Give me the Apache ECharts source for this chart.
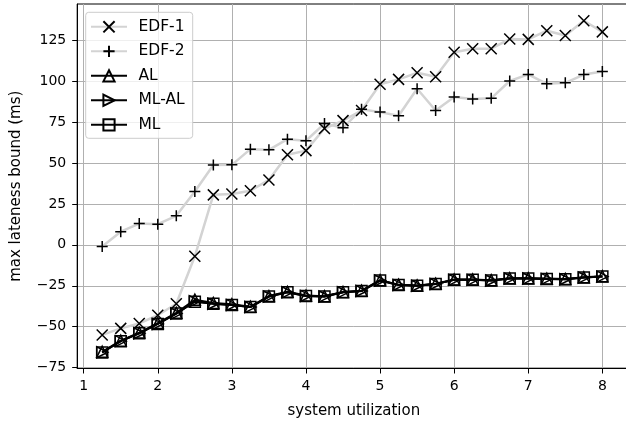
<!DOCTYPE html>
<html>
<head>
<meta charset="utf-8">
<script src="https://cdn.jsdelivr.net/npm/echarts@6/dist/echarts.min.js"></script>
<style>
  html, body { margin: 0; padding: 0; background: #fff; overflow: hidden; }
  /* the plot frame runs past the right edge of the 626px window, as in the original */
  #chart { width: 640px; height: 425px; }
</style>
</head>
<body>
<div id="chart"></div>
<script>
// system utilization values (x)
const utilization = [1.25, 1.5, 1.75, 2, 2.25, 2.5, 2.75, 3, 3.25, 3.5, 3.75, 4, 4.25, 4.5,
    4.75, 5, 5.25, 5.5, 5.75, 6, 6.25, 6.5, 6.75, 7, 7.25, 7.5, 7.75, 8];

const edf1 = [-55, -51, -48, -43, -36, -7, 30.5, 31, 33, 39.6, 55, 57.5, 71, 75.8,
    82, 98, 101, 105, 102.6, 117.5, 119.7, 119.7, 125.6, 125.4, 130.7, 127.8, 136.8, 130];
const edf2 = [-1, 8, 13, 12.6, 17.7, 32.5, 48.7, 48.8, 58.4, 58, 64.5, 63.5, 74, 71.4,
    82.8, 81, 78.8, 95.3, 82, 90.2, 89, 89.4, 100, 104, 98.3, 98.9, 103.9, 105.8];
const al = [-65.3, -58.5, -53.6, -47.8, -41.5, -33.5, -35.5, -36.3, -37.8, -31.3, -28.7, -31, -31.4, -28.8,
    -28, -21.6, -24.3, -24.8, -23.7, -21.2, -21.2, -21.6, -20.4, -20.4, -20.6, -20.8, -19.8, -19.2];
const mlal = [-65.6, -58.8, -54, -48.3, -42, -34.5, -36, -36.7, -38, -31.6, -29, -31.2, -31.6, -29,
    -28.2, -21.8, -24.5, -25, -23.9, -21.4, -21.4, -21.8, -20.6, -20.6, -20.8, -21, -20, -19.4];
const ml = [-65.7, -58.8, -54, -48.3, -42, -34.7, -36, -36.7, -38, -31.6, -29, -31.2, -31.6, -29,
    -28.2, -21.8, -24.5, -25, -23.9, -21.4, -21.4, -21.8, -20.6, -20.6, -20.8, -21, -20, -19.4];

const xTicks = [1, 2, 3, 4, 5, 6, 7, 8];
const yTicks = [-75, -50, -25, 0, 25, 50, 75, 100, 125];

const pairs = (ys) => utilization.map((x, i) => [x, ys[i]]);
const minus = (v) => String(v).replace('-', '\u2212');

const font = 'DejaVu Sans';
const xSym = 'path://M0,0L10,10M0,10L10,0';
const plusSym = 'path://M5,0L5,10M0,5L10,5';

function graySeries(name, data, symbol) {
    return {
        name: name, type: 'line', data: pairs(data),
        symbol: symbol, symbolSize: 11, symbolKeepAspect: true,
        lineStyle: { color: '#d3d3d3', width: 2.5 },
        itemStyle: { color: '#000', borderColor: '#000', borderWidth: 1.5 },
        emphasis: { disabled: true }
    };
}
function blackSeries(name, data, symbol, rotate) {
    return {
        name: name, type: 'line', data: pairs(data),
        symbol: symbol, symbolSize: 11, symbolRotate: rotate || 0,
        lineStyle: { color: '#000', width: 2 },
        itemStyle: { color: 'rgba(255,255,255,0)', borderColor: '#000', borderWidth: 1.5 },
        emphasis: { disabled: true }
    };
}

const chart = echarts.init(document.getElementById('chart'));
chart.setOption({
    animation: false,
    textStyle: { fontFamily: font },
    grid: {
        left: 77.2, top: 4, width: 553.3, height: 364.5,
        show: true, borderColor: '#000', borderWidth: 1, backgroundColor: '#fff'
    },
    legend: {
        orient: 'vertical', left: 85.7, top: 12.3,
        padding: [6.5, 8, 5.5, 4.3],
        itemWidth: 36, itemHeight: 14, itemGap: 8.5,
        backgroundColor: 'rgba(255,255,255,0.8)',
        borderColor: '#cccccc', borderWidth: 1, borderRadius: 3,
        formatter: (name) => '\u00a0\u200a' + name,
        textStyle: { fontFamily: font, fontSize: 15.5, color: '#000' },
        data: ['EDF-1', 'EDF-2', 'AL', 'ML-AL', 'ML']
    },
    xAxis: {
        type: 'value', min: 0.9125, max: 8.38,
        name: 'system utilization', nameLocation: 'middle', nameGap: 35,
        nameTextStyle: { fontFamily: font, fontSize: 15, color: '#000' },
        axisLine: { show: true, onZero: false, lineStyle: { color: '#000', width: 1 } },
        axisTick: { show: true, length: 5, customValues: xTicks, lineStyle: { color: '#000' } },
        axisLabel: { customValues: xTicks, fontFamily: font, fontSize: 14, color: '#000', margin: 11 },
        splitLine: { show: true, lineStyle: { color: '#b0b0b0', width: 1 } }
    },
    yAxis: {
        type: 'value', min: -75.5, max: 147,
        name: 'max lateness bound (ms)', nameLocation: 'middle', nameGap: 54,
        nameTextStyle: { fontFamily: font, fontSize: 15, color: '#000' },
        axisLine: { show: true, onZero: false, lineStyle: { color: '#000', width: 1 } },
        axisTick: { show: true, length: 5, customValues: yTicks, lineStyle: { color: '#000' } },
        axisLabel: { customValues: yTicks, fontFamily: font, fontSize: 14, color: '#000', margin: 11,
            formatter: minus },
        splitLine: { show: true, lineStyle: { color: '#b0b0b0', width: 1 } }
    },
    series: [
        graySeries('EDF-1', edf1, xSym),
        graySeries('EDF-2', edf2, plusSym),
        blackSeries('AL', al, 'triangle'),
        blackSeries('ML-AL', mlal, 'triangle', -90),
        blackSeries('ML', ml, 'rect')
    ]
});
</script>
</body>
</html>
